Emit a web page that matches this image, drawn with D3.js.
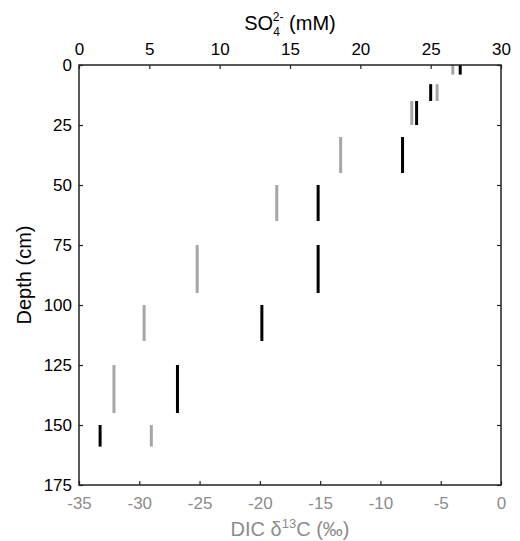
<!DOCTYPE html>
<html>
<head>
<meta charset="utf-8">
<script src="https://cdn.jsdelivr.net/npm/d3@7/dist/d3.min.js"></script>
<style>
  html, body { margin: 0; padding: 0; background: #fff; }
  svg { display: block; font-family: "Liberation Sans", Arial, Helvetica, sans-serif; }
</style>
</head>
<body>
<svg id="chart" width="520" height="541"></svg>
<script>
// Depth intervals (cm) for each sample
const depthTop    = [0, 8, 15, 30, 50, 75, 100, 125, 150];
const depthBottom = [4, 15, 25, 45, 65, 95, 115, 145, 159];
// Sulfate (mM) - black bars, top axis
const so4 = [27.1, 25.0, 24.0, 23.0, 17.0, 17.0, 13.0, 7.0, 1.5];
// DIC δ13C (‰) - gray bars, bottom axis
const dic = [-4.0, -5.3, -7.4, -13.3, -18.6, -25.2, -29.6, -32.1, -29.0];

const so4Ticks = [0, 5, 10, 15, 20, 25, 30];
const dicTicks = [-35, -30, -25, -20, -15, -10, -5, 0];
const depthTicks = [0, 25, 50, 75, 100, 125, 150, 175];

const margin = {left: 79, right: 19, top: 65, bottom: 56};
const W = 520, H = 541;
const svg = d3.select("#chart");

const xSO4 = d3.scaleLinear().domain([0, 30]).range([margin.left, W - margin.right]);
const xDIC = d3.scaleLinear().domain([-35, 0]).range([margin.left, W - margin.right]);
const y = d3.scaleLinear().domain([0, 175]).range([margin.top, H - margin.bottom]);

const gray = "#a6a6a6";
const labelGray = "#8c8c8c";

// Bars
const samples = depthTop.map((d, i) => ({top: d, bottom: depthBottom[i], so4: so4[i], dic: dic[i]}));

svg.append("g").selectAll("line").data(samples).join("line")
  .attr("x1", d => xDIC(d.dic)).attr("x2", d => xDIC(d.dic))
  .attr("y1", d => y(d.top)).attr("y2", d => y(d.bottom))
  .attr("stroke", gray).attr("stroke-width", 3);

svg.append("g").selectAll("line").data(samples).join("line")
  .attr("x1", d => xSO4(d.so4)).attr("x2", d => xSO4(d.so4))
  .attr("y1", d => y(d.top)).attr("y2", d => y(d.bottom))
  .attr("stroke", "#000").attr("stroke-width", 3);

// Axes
const tk = 4;
const gTop = svg.append("g").attr("transform", `translate(0,${margin.top})`)
  .call(d3.axisTop(xSO4).tickValues(so4Ticks).tickSize(-tk).tickPadding(10).tickFormat(d3.format("d")));
const gBottom = svg.append("g").attr("transform", `translate(0,${H - margin.bottom})`)
  .call(d3.axisBottom(xDIC).tickValues(dicTicks).tickSize(-tk).tickPadding(12).tickFormat(d => d === 0 ? "0" : "-" + Math.abs(d)));
const gLeft = svg.append("g").attr("transform", `translate(${margin.left},0)`)
  .call(d3.axisLeft(y).tickValues(depthTicks).tickSize(-tk).tickPadding(7).tickFormat(d3.format("d")));
const gRight = svg.append("g").attr("transform", `translate(${W - margin.right},0)`)
  .call(d3.axisRight(y).tickValues(depthTicks).tickSize(-tk).tickFormat(""));

[gTop, gBottom, gLeft, gRight].forEach(g => {
  g.select(".domain").remove();
  g.selectAll(".tick line").attr("stroke", "#222").attr("stroke-width", 1.2);
  g.selectAll("text").attr("font-size", 17).attr("font-family", null);
});
gTop.selectAll("text").attr("fill", "#000");
gLeft.selectAll("text").attr("fill", "#000");
gBottom.selectAll("text").attr("fill", labelGray);

// Frame
svg.append("rect")
  .attr("x", margin.left).attr("y", margin.top)
  .attr("width", W - margin.left - margin.right)
  .attr("height", H - margin.top - margin.bottom)
  .attr("fill", "none").attr("stroke", "#222").attr("stroke-width", 1.5);

// Titles
const cx = (margin.left + W - margin.right) / 2;
const t1 = svg.append("text").attr("x", cx).attr("y", 30).attr("text-anchor", "middle")
  .attr("font-size", 20).attr("fill", "#000");
t1.append("tspan").text("SO");
t1.append("tspan").attr("font-size", 12).attr("dy", 6).text("4");
t1.append("tspan").attr("font-size", 12).attr("dx", -7).attr("dy", -15).text("2-");
t1.append("tspan").attr("dy", 9).text(" (mM)");

const t2 = svg.append("text").attr("x", cx).attr("y", 536).attr("text-anchor", "middle")
  .attr("font-size", 20).attr("fill", labelGray);
t2.append("tspan").text("DIC δ");
t2.append("tspan").attr("font-size", 13).attr("dy", -8).text("13");
t2.append("tspan").attr("dy", 8).text("C (‰)");

svg.append("text")
  .attr("transform", `translate(31,${(margin.top + H - margin.bottom) / 2}) rotate(-90)`)
  .attr("text-anchor", "middle").attr("font-size", 20).attr("fill", "#000")
  .text("Depth (cm)");
</script>
</body>
</html>
